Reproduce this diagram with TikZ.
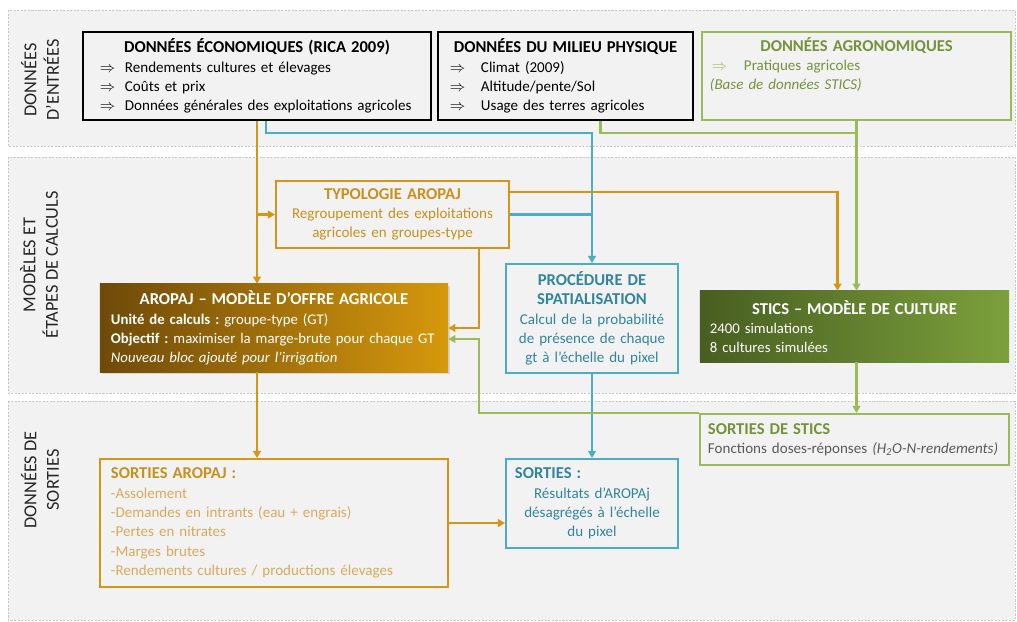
\documentclass[tikz,border=0pt]{standalone}
\usepackage{fontspec}
\setmainfont{Carlito}
\usetikzlibrary{calc,arrows.meta,shadows}
\setlength{\parindent}{0pt}
\frenchspacing

\definecolor{bandfill}{RGB}{242,242,242}
\definecolor{bandline}{RGB}{200,200,200}
\definecolor{orline}{RGB}{212,150,20}
\definecolor{ortitle}{RGB}{200,145,30}
\definecolor{ortext}{RGB}{216,170,92}
\definecolor{blline}{RGB}{75,172,198}
\definecolor{bltext}{RGB}{49,133,156}
\definecolor{gnline}{RGB}{155,187,89}
\definecolor{gntext}{RGB}{118,146,60}
\definecolor{greytext}{RGB}{89,89,89}
\definecolor{aroleft}{RGB}{110,74,10}
\definecolor{aroright}{RGB}{214,152,12}
\definecolor{sticsleft}{RGB}{72,94,33}
\definecolor{sticsright}{RGB}{124,160,60}

\newcommand{\darr}[1]{\makebox[#1][l]{$\Rightarrow$}}
\newcommand{\boxtitle}[1]{{\centering\fontsize{11.8}{13.7}\selectfont\textbf{#1}\par}}
\newcommand{\lefttitle}[1]{{\raggedright\fontsize{11.8}{13.7}\selectfont\textbf{#1}\par}}

\begin{document}
\begin{tikzpicture}[x=0.025cm, y=-0.025cm,
	band/.style={fill=bandfill, draw=bandline, dash pattern=on 1.5pt off 1pt, line width=0.4pt},
	bandlbl/.style={rotate=90, align=center, font=\fontsize{13}{16}\selectfont, text=black!85},
	blk/.style={draw, line width=1.4pt, inner ysep=0pt, font=\fontsize{10.7}{13.7}\selectfont},
	solid/.style={draw=none, text=white, inner ysep=0pt, font=\fontsize{10.5}{13.7}\selectfont},
	orl/.style={draw=orline, line width=1.5pt},
	bll/.style={draw=blline, line width=1.5pt},
	gnl/.style={draw=gnline, line width=1.5pt}]
	\tikzset{>={Triangle[length=5pt,width=5.5pt]}}
	\useasboundingbox (0,0) rectangle (1017,622);

	% bandes
	\draw [band] (8,10) rectangle (1015,146);
	\draw [band] (8,157) rectangle (1015,393);
	\draw [band] (8,401) rectangle (1015,620);
	\node [bandlbl] (lblin) at (40,80) {DONNÉES\\D’ENTRÉES};
	\node [bandlbl] (lblmod) at (39,265) {MODÈLES ET\\ÉTAPES DE CALCULS};
	\node [bandlbl] (lblout) at (40,480) {DONNÉES DE\\SORTIES};

	% donnees d'entree
	\node [blk, draw=black, align=left, text width=8.4cm, inner xsep=0.15cm, minimum height=2.2cm] (eco) at (257,76) {\boxtitle{DONNÉES ÉCONOMIQUES (RICA 2009)}
		\hspace*{0.275cm}\darr{0.625cm}Rendements cultures et élevages\\
		\hspace*{0.275cm}\darr{0.625cm}Coûts et prix\\
		\hspace*{0.275cm}\darr{0.625cm}Données générales des exploitations agricoles};
	\node [blk, draw=black, align=left, text width=6.075cm, inner xsep=0.15cm, minimum height=2.2cm] (phys) at (565.5,76) {\boxtitle{DONNÉES DU MILIEU PHYSIQUE}
		\hspace*{0.15cm}\darr{0.775cm}Climat (2009)\\
		\hspace*{0.15cm}\darr{0.775cm}Altitude/pente/Sol\\
		\hspace*{0.15cm}\darr{0.775cm}Usage des terres agricoles};
	\node [blk, draw=gnline, text=gntext, align=left, text width=7.325cm, inner xsep=0.2cm, minimum height=2.2cm] (agro) at (856.5,76) {\boxtitle{DONNÉES AGRONOMIQUES}
		\hspace*{0.05cm}\textcolor{gnline}{\darr{0.8cm}}Pratiques agricoles\\
		\textit{(Base de données STICS)}\\
		\strut};

	% modeles
	\node [blk, draw=orline, text=ortitle, align=center, text width=5.525cm, inner xsep=0.15cm, minimum height=1.675cm] (typo) at (392.5,214.5) {\boxtitle{TYPOLOGIE AROPAJ}
		Regroupement des exploitations\\ agricoles en groupes-type};
	\node [solid, left color=aroleft, right color=aroright, drop shadow={shadow xshift=1.5pt, shadow yshift=-1.5pt, opacity=0.25}, align=left, text width=8.3cm, inner xsep=0.2cm, minimum height=2.2cm] (aro) at (274,328) {\boxtitle{AROPAJ – MODÈLE D’OFFRE AGRICOLE}
		\hspace*{0.075cm}\textbf{Unité de calculs :} groupe-type (GT)\\
		\hspace*{0.075cm}\textbf{Objectif :} maximiser la marge-brute pour chaque GT\\
		\hspace*{0.075cm}\textit{Nouveau bloc ajouté pour l’irrigation}};
	\node [blk, draw=blline, text=bltext, align=center, text width=4cm, inner xsep=0.15cm, minimum height=2.725cm] (proc) at (592,318.5) {\boxtitle{PROCÉDURE DE\\SPATIALISATION}
		Calcul de la probabilité\\ de présence de chaque\\ gt à l’échelle du pixel};
	\node [solid, left color=sticsleft, right color=sticsright, align=left, text width=7.225cm, inner xsep=0.25cm, minimum height=1.775cm] (stics) at (854.5,326.5) {\boxtitle{STICS – MODÈLE DE CULTURE}
		2400 simulations\\
		8 cultures simulées};

	% sorties
	\node [blk, draw=gnline, text=greytext, align=left, text width=7.325cm, inner xsep=0.2cm, minimum height=1.275cm] (sstics) at (854.5,439.5) {\lefttitle{\textcolor{gntext}{SORTIES DE STICS}}
		Fonctions doses-réponses \textit{(H\textsubscript{2}O-N-rendements)}};
	\node [blk, draw=blline, text=bltext, align=center, text width=3.85cm, inner xsep=0.225cm, minimum height=2.225cm] (sortie) at (592,503.5) {\lefttitle{SORTIES :}
		Résultats d’AROPAj\\ désagrégés à l’échelle\\ du pixel};
	\node [blk, draw=orline, text=ortext, align=left, text width=8.15cm, inner xsep=0.275cm, minimum height=3.2cm] (saro) at (274,523) {\lefttitle{\textcolor{ortitle}{SORTIES AROPAJ :}}
		-Assolement\\
		-Demandes en intrants (eau + engrais)\\
		-Pertes en nitrates\\
		-Marges brutes\\
		-Rendements cultures / productions élevages};

	\coordinate (railin) at (0,133);

	% liaisons
	\draw [->, bll] ($(eco.south)+(9,0)$) |- (proc.north |- railin) -- (proc.north);
	\draw [bll] (typo.east) -- (typo.east -| proc.north);
	\draw [->, bll] (proc.south) -- (sortie.north);
	\draw [gnl] ($(phys.south)+(35,0)$) |- (agro.south |- railin);
	\draw [->, gnl] (agro.south) -- (agro.south |- stics.north);
	\draw [->, gnl] (agro.south |- stics.south) -- (agro.south |- sstics.north);
	\draw [->, gnl] (sstics.north west) -| ($(aro.east)+(31,11)$) -- ($(aro.east)+(0,11)$);
	\draw [->, orl] (eco.south) -- (eco.south |- aro.north);
	\draw [->, orl] (eco.south |- typo.west) -- (typo.west);
	\draw [->, orl] ($(typo.north east)+(0,12)$) -| ($(stics.north)+(-17,0)$);
	\draw [->, orl] ($(typo.south east)+(-31,0)$) |- (aro.east);
	\draw [->, orl] (eco.south |- aro.south) -- (eco.south |- saro.north);
	\draw [->, orl] (saro.east) -- (saro.east -| sortie.west);
\end{tikzpicture}
\end{document}
